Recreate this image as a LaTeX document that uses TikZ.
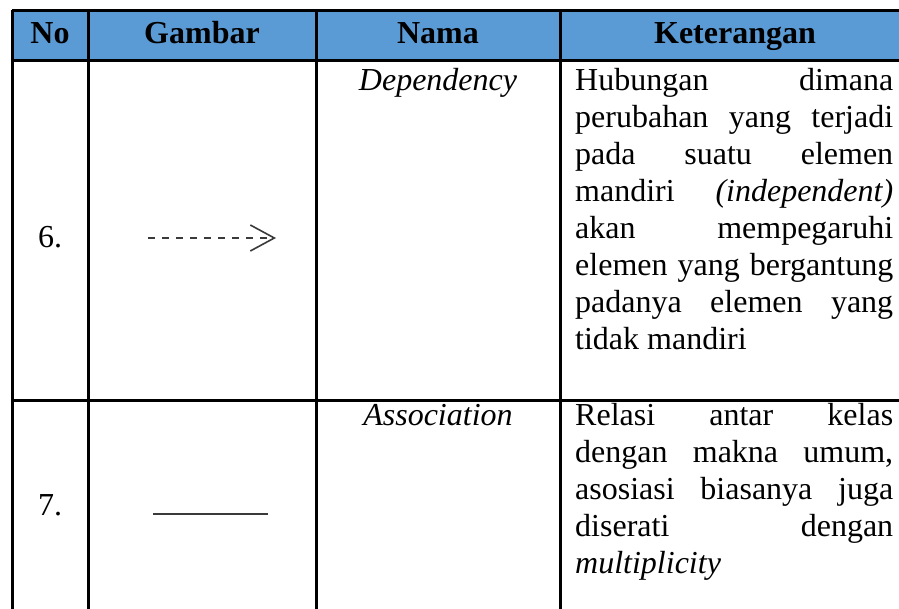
\documentclass[tikz,border=0pt]{standalone}
\usepackage{fontspec}
\setmainfont{Liberation Serif}
\usetikzlibrary{arrows.meta}
\definecolor{hdrblue}{HTML}{5B9BD5}
\definecolor{symgray}{HTML}{3A3A3A}
\begin{document}
\begin{tikzpicture}[x=1pt,y=-1pt,
  grid/.style={line width=3pt,black},
  hdr/.style={anchor=base,inner sep=0pt,font=\fontsize{32}{37}\selectfont\bfseries},
  txt/.style={anchor=base west,inner sep=0pt,font=\fontsize{32}{37}\selectfont},
  ctr/.style={anchor=base,inner sep=0pt,font=\fontsize{32}{37}\selectfont}]
\useasboundingbox (0,0) rectangle (899,608);
\clip (0,0) rectangle (899,608);
% header fill
\fill[hdrblue] (12,10) rectangle (920,60);
% grid lines
\draw[grid] (12,10) -- (920,10);
\draw[grid] (12,60) -- (920,60);
\draw[grid] (12,400) -- (920,400);
\draw[grid] (12,10) -- (12,620);
\draw[grid] (88,10) -- (88,620);
\draw[grid] (316,10) -- (316,620);
\draw[grid] (560,10) -- (560,620);
% header
\node[hdr] (hNo) at (50,43) {No};
\node[hdr] (hGambar) at (202,43) {Gambar};
\node[hdr] (hNama) at (438,43) {Nama};
\node[hdr] (hKet) at (735,43) {Keterangan};
% row 6
\node[ctr] (n6) at (50,247) {6.};
\node[ctr] (nm6) at (438,90) {\itshape Dependency};
\coordinate (d1) at (148,238);
\coordinate (d2) at (276,238);
\draw[symgray,line width=2.2pt,dash pattern=on 7pt off 7pt,
  -{Straight Barb[length=24pt,width=26pt,line width=1.6pt]}] (d1) -- (d2);
\node[txt] (k61) at (575,90) {\hbox to 318pt{Hubungan\hfill dimana}};
\node[txt] (k62) at (575,127) {\hbox to 318pt{perubahan\hfill yang\hfill terjadi}};
\node[txt] (k63) at (575,164) {\hbox to 318pt{pada\hfill suatu\hfill elemen}};
\node[txt] (k64) at (575,201) {\hbox to 318pt{mandiri\hfill \itshape (independent)}};
\node[txt] (k65) at (575,238) {\hbox to 318pt{akan\hfill mempegaruhi}};
\node[txt] (k66) at (575,275) {\hbox to 318pt{elemen\hfill yang\hfill bergantung}};
\node[txt] (k67) at (575,312) {\hbox to 318pt{padanya\hfill elemen\hfill yang}};
\node[txt] (k68) at (575,349) {tidak mandiri};
% row 7
\node[ctr] (n7) at (50,515) {7.};
\node[ctr] (nm7) at (438,425) {\itshape Association};
\coordinate (a1) at (153,514);
\coordinate (a2) at (268,514);
\draw[symgray,line width=2pt] (a1) -- (a2);
\node[txt] (k71) at (575,425) {\hbox to 318pt{Relasi\hfill antar\hfill kelas}};
\node[txt] (k72) at (575,462) {\hbox to 318pt{dengan\hfill makna\hfill umum,}};
\node[txt] (k73) at (575,499) {\hbox to 318pt{asosiasi\hfill biasanya\hfill juga}};
\node[txt] (k74) at (575,536) {\hbox to 318pt{diserati\hfill dengan}};
\node[txt] (k75) at (575,573) {\itshape multiplicity};
\end{tikzpicture}
\end{document}
